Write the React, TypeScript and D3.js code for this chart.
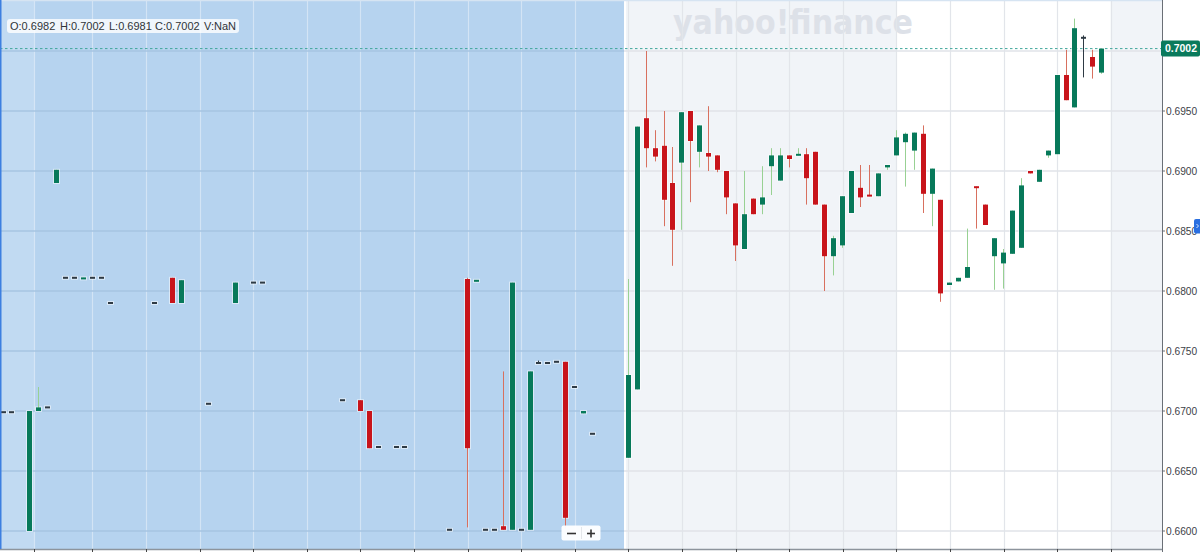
import React from 'react';
import * as d3 from 'd3';

const W = 1200;
const H = 552;

// candle index 0..123 (null = no trade in that slot)
const opens: (number | null)[] = [
  0.6699, 0.6699, null, 0.66, 0.67, 0.6703, 0.689, 0.6811, 0.6811, 0.681,
  0.6811, 0.6811, 0.679, null, null, null, null, 0.679, null, 0.6811,
  0.679, null, null, 0.6706, null, null, 0.679, null, 0.6807, 0.6807,
  null, null, null, null, null, null, null, null, 0.6709, null,
  0.6709, 0.67, 0.667, null, 0.667, 0.667, null, null, null, null,
  0.6601, null, 0.681, 0.6808, 0.6601, 0.6601, 0.6604, 0.6601, 0.6601, 0.6601,
  0.674, 0.674, 0.6741, 0.6741, 0.672, 0.6698, 0.6681, null, null, null,
  0.6661, 0.6718, 0.6944, 0.6919, 0.6921, 0.689, 0.6907, 0.695, 0.6916, 0.6915,
  0.6913, 0.69, 0.6873, 0.6835, 0.6877, 0.6872, 0.6904, 0.6892, 0.6913, 0.6913,
  0.6914, 0.6916, 0.6872, 0.6829, 0.6838, 0.6865, 0.6886, 0.688, 0.6879, 0.6903,
  0.6913, 0.6924, 0.6917, 0.6931, 0.6881, 0.6876, 0.6805, 0.6808, 0.6811, 0.6887,
  0.6872, 0.6829, 0.6823, 0.6831, 0.6836, 0.69, 0.6891, 0.6913, 0.6914, 0.698,
  0.6953, 0.7011, 0.6995, 0.6982,
];
const highs: (number | null)[] = [
  0.6699, 0.6699, null, 0.67, 0.672, 0.6703, 0.6901, 0.6811, 0.6811, 0.6811,
  0.6811, 0.6811, 0.679, null, null, null, null, 0.679, null, 0.6811,
  0.6809, null, null, 0.6706, null, null, 0.6807, null, 0.6807, 0.6807,
  null, null, null, null, null, null, null, null, 0.6709, null,
  0.6709, 0.67, 0.667, null, 0.667, 0.667, null, null, null, null,
  0.6601, null, 0.6811, 0.6809, 0.6601, 0.6601, 0.6733, 0.6807, 0.6601, 0.6733,
  0.6742, 0.674, 0.6741, 0.6741, 0.672, 0.67, 0.6681, null, null, null,
  0.681, 0.6937, 0.7, 0.6934, 0.695, 0.692, 0.6949, 0.695, 0.6938, 0.6954,
  0.6913, 0.69, 0.6873, 0.69, 0.6877, 0.6904, 0.6919, 0.6919, 0.6913, 0.6919,
  0.6919, 0.6916, 0.6872, 0.6846, 0.6879, 0.69, 0.6905, 0.6905, 0.6898, 0.6905,
  0.6934, 0.6932, 0.6932, 0.6938, 0.6902, 0.6876, 0.6807, 0.6811, 0.6852, 0.6887,
  0.6872, 0.6844, 0.6835, 0.6867, 0.6894, 0.69, 0.6901, 0.6917, 0.698, 0.7001,
  0.7027, 0.7013, 0.7001, 0.7002,
];
const lows: (number | null)[] = [
  0.6699, 0.6699, null, 0.66, 0.67, 0.6703, 0.689, 0.6811, 0.6811, 0.681,
  0.6811, 0.6811, 0.679, null, null, null, null, 0.679, null, 0.679,
  0.679, null, null, 0.6706, null, null, 0.679, null, 0.6807, 0.6807,
  null, null, null, null, null, null, null, null, 0.6709, null,
  0.67, 0.6669, 0.667, null, 0.667, 0.667, null, null, null, null,
  0.6601, null, 0.6603, 0.6808, 0.6601, 0.6601, 0.6601, 0.6601, 0.6601, 0.6601,
  0.674, 0.674, 0.6741, 0.6602, 0.672, 0.6698, 0.6681, null, null, null,
  0.6661, 0.6718, 0.6903, 0.6908, 0.6854, 0.6821, 0.6851, 0.6874, 0.6903, 0.69,
  0.6899, 0.6864, 0.6825, 0.6835, 0.6864, 0.6864, 0.688, 0.6892, 0.6903, 0.6913,
  0.6872, 0.6872, 0.68, 0.6813, 0.6836, 0.6865, 0.687, 0.6879, 0.6879, 0.6901,
  0.6913, 0.6887, 0.6901, 0.6865, 0.6854, 0.6791, 0.6805, 0.6808, 0.6811, 0.6852,
  0.6855, 0.6801, 0.6802, 0.6831, 0.6836, 0.6898, 0.6891, 0.6911, 0.6914, 0.6959,
  0.6953, 0.6978, 0.6977, 0.6981,
];
const closes: (number | null)[] = [
  0.6699, 0.6699, null, 0.67, 0.6703, 0.6703, 0.6901, 0.6811, 0.6811, 0.6811,
  0.6811, 0.6811, 0.679, null, null, null, null, 0.679, null, 0.679,
  0.6809, null, null, 0.6706, null, null, 0.6807, null, 0.6807, 0.6807,
  null, null, null, null, null, null, null, null, 0.6709, null,
  0.67, 0.6669, 0.667, null, 0.667, 0.667, null, null, null, null,
  0.6601, null, 0.6669, 0.6809, 0.6601, 0.6601, 0.6601, 0.6807, 0.6601, 0.6733,
  0.674, 0.674, 0.6741, 0.6611, 0.672, 0.67, 0.6681, null, null, null,
  0.673, 0.6937, 0.6919, 0.6912, 0.6876, 0.6851, 0.6949, 0.6925, 0.6938, 0.6912,
  0.6901, 0.6878, 0.6838, 0.6864, 0.6864, 0.6878, 0.6913, 0.6913, 0.691, 0.6914,
  0.6894, 0.6872, 0.6829, 0.6844, 0.6879, 0.69, 0.6878, 0.6879, 0.6898, 0.6905,
  0.6928, 0.6931, 0.6932, 0.6881, 0.6902, 0.6798, 0.6807, 0.6811, 0.682, 0.6886,
  0.6855, 0.6844, 0.6832, 0.6867, 0.6888, 0.6898, 0.6901, 0.6917, 0.698, 0.6959,
  0.7019, 0.7011, 0.6987, 0.7002,
];

// y axis ticks and vertical grid positions (candle-slot units)
const priceTicks = [0.66, 0.665, 0.67, 0.675, 0.68, 0.685, 0.69, 0.695, 0.7];
const gridSlots = [3.5, 10, 16, 22, 28, 34, 40, 46, 52, 58, 64, 70, 76, 82, 88, 94, 100, 106, 112, 118, 124];
const legendItems = ['O:0.6982', 'H:0.7002', 'L:0.6981', 'C:0.7002', 'V:NaN'];

const UP = '#07795a';
const DOWN = '#c8141b';
const UP_WICK = '#98d193';
const DOWN_WICK = '#d8705f';
const DOJI = '#2e3a44';

const AXIS_X = 1162;
const AXIS_Y = 549;
const BLUE_END = 624;
const FONT = '"Liberation Sans", Arial, Helvetica, sans-serif';

export default function App() {
  const x = d3.scaleLinear().domain([0, 124]).range([3.0, 1110.7]);
  const y = d3.scaleLinear().domain([0.66, 0.7]).range([531, 51]);
  const fmt = d3.format('.4f');
  const last = closes[closes.length - 1] as number;
  const lastY = y(last);

  const candles = opens.map((o, i) => {
    const h = highs[i], l = lows[i], c = closes[i];
    if (o == null || h == null || l == null || c == null) return null;
    const cx = x(i);
    const bx = Math.round(cx - 2.5);
    const wx = bx + 2.5;
    const doji = o === c;
    const up = c > o;
    const bodyColor = doji ? DOJI : up ? UP : DOWN;
    const wickColor = doji ? DOJI : up ? UP_WICK : DOWN_WICK;
    const top = y(Math.max(o, c));
    const bot = y(Math.min(o, c));
    const bh = Math.max(2, bot - top);
    const by = bot - top < 2 ? (top + bot) / 2 - 1 : top;
    const yh = y(h), yl = y(l);
    return (
      <g key={i}>
        <rect x={bx - 1} y={by - 1} width={7} height={bh + 2} fill="#ffffff" opacity={0.5} />
        {yl - yh > 0.5 && (
          <line x1={wx} x2={wx} y1={yh} y2={yl} stroke={wickColor} strokeWidth={1} />
        )}
        <rect x={bx} y={by} width={5} height={bh} fill={bodyColor} />
      </g>
    );
  });

  return (
    <svg
      width={W}
      height={H}
      style={{ position: 'fixed', left: 0, top: 0, display: 'block' }}
      fontFamily={FONT}
    >
      <rect x={0} y={0} width={W} height={H} fill="#ffffff" />
      <rect x={626} y={0} width={x(100) - 626} height={AXIS_Y} fill="#f1f4f8" />
      <rect x={x(124)} y={0} width={AXIS_X - x(124)} height={AXIS_Y} fill="#f1f4f8" />
      <rect x={0} y={0} width={BLUE_END} height={AXIS_Y} fill="#b6d3ef" />
      <rect x={0} y={0} width={x(3.5)} height={AXIS_Y} fill="#c1daf2" />

      {/* watermark */}
      <text
        x={793}
        y={34}
        textAnchor="middle"
        fontSize={34}
        fontWeight={900}
        fontFamily='"DejaVu Sans", "Open Sans", sans-serif'
        fill="#dde1e8"
        textLength={240}
        lengthAdjust="spacingAndGlyphs"
      >
        yahoo!finance
      </text>

      {/* vertical grid */}
      {gridSlots.map((g) => {
        const gx = Math.round(x(g)) + 0.5;
        return (
          <line
            key={'v' + g}
            x1={gx}
            x2={gx}
            y1={0}
            y2={AXIS_Y}
            stroke={gx < BLUE_END ? 'rgba(255,255,255,0.4)' : '#e2e5ea'}
            strokeWidth={1.2}
          />
        );
      })}
      {/* horizontal grid */}
      {priceTicks.map((t) => {
        const gy = y(t);
        return (
          <g key={'h' + t}>
            <line x1={0} x2={BLUE_END} y1={gy} y2={gy} stroke="#a6c4e2" strokeWidth={1.5} />
            <line x1={BLUE_END} x2={AXIS_X} y1={gy} y2={gy} stroke="#e0e3e8" strokeWidth={1.5} />
          </g>
        );
      })}
      <line x1={0} x2={AXIS_X} y1={0.5} y2={0.5} stroke="#d6e4f2" strokeWidth={1.5} />

      {/* last price line */}
      <line
        x1={0}
        x2={AXIS_X}
        y1={lastY}
        y2={lastY}
        stroke="#3fa69a"
        strokeWidth={1}
        strokeDasharray="2.5,2.5"
      />

      {candles}

      {/* axes */}
      <line x1={0} x2={AXIS_X} y1={AXIS_Y + 0.5} y2={AXIS_Y + 0.5} stroke="#8d949c" strokeWidth={1.5} />
      {gridSlots.map((g) => {
        const gx = Math.round(x(g)) + 0.5;
        return <line key={'t' + g} x1={gx} x2={gx} y1={AXIS_Y} y2={H} stroke="#444" strokeWidth={1} />;
      })}
      <line x1={AXIS_X + 0.5} x2={AXIS_X + 0.5} y1={0} y2={H} stroke="#6a6f76" strokeWidth={1} />
      {priceTicks
        .filter((t) => Math.abs(y(t) - lastY) > 12)
        .map((t) => (
          <g key={'yl' + t}>
            <line x1={AXIS_X} x2={AXIS_X + 3} y1={y(t)} y2={y(t)} stroke="#6a6f76" strokeWidth={1} />
            <text x={AXIS_X + 4} y={y(t) + 3.5} fontSize={10.2} fill="#3c4148">
              {fmt(t)}
            </text>
          </g>
        ))}

      {/* last price box */}
      <rect x={AXIS_X - 1} y={lastY - 8} width={39} height={16} rx={2} fill="#0a7a5c" />
      <text x={AXIS_X + 19} y={lastY + 3.7} fontSize={10.5} fontWeight={700} fill="#ffffff" textAnchor="middle">
        {fmt(last)}
      </text>

      {/* right edge tab */}
      <rect x={1194} y={219} width={12} height={14.5} rx={2} fill="#2a6fe0" />
      <path d="M1196.5,224 L1198.5,226 L1196.5,228" fill="none" stroke="#ffffff" strokeWidth={0.8} />

      {/* legend */}
      <rect x={7} y={19} width={232} height={14} rx={3} fill="#ffffff" opacity={0.8} />
      {legendItems.map((s, i) => (
        <text key={s} x={10 + [0, 50, 99, 145, 194][i]} y={30} fontSize={11} fill="#2f3438">
          {s}
        </text>
      ))}

      {/* zoom buttons */}
      <rect x={561.5} y={525.5} width={39} height={15} rx={2} fill="#ffffff" opacity={0.95} />
      <line x1={581.5} x2={581.5} y1={527} y2={539} stroke="#e3e6ea" strokeWidth={1} />
      <line x1={567} x2={576} y1={533.5} y2={533.5} stroke="#333" strokeWidth={1.6} />
      <line x1={587} x2={595} y1={533.5} y2={533.5} stroke="#333" strokeWidth={1.6} />
      <line x1={591} x2={591} y1={529.5} y2={537.5} stroke="#333" strokeWidth={1.6} />

      {/* left edge accent */}
      <rect x={0} y={0} width={1.5} height={AXIS_Y} fill="#3d7fe0" />
    </svg>
  );
}
